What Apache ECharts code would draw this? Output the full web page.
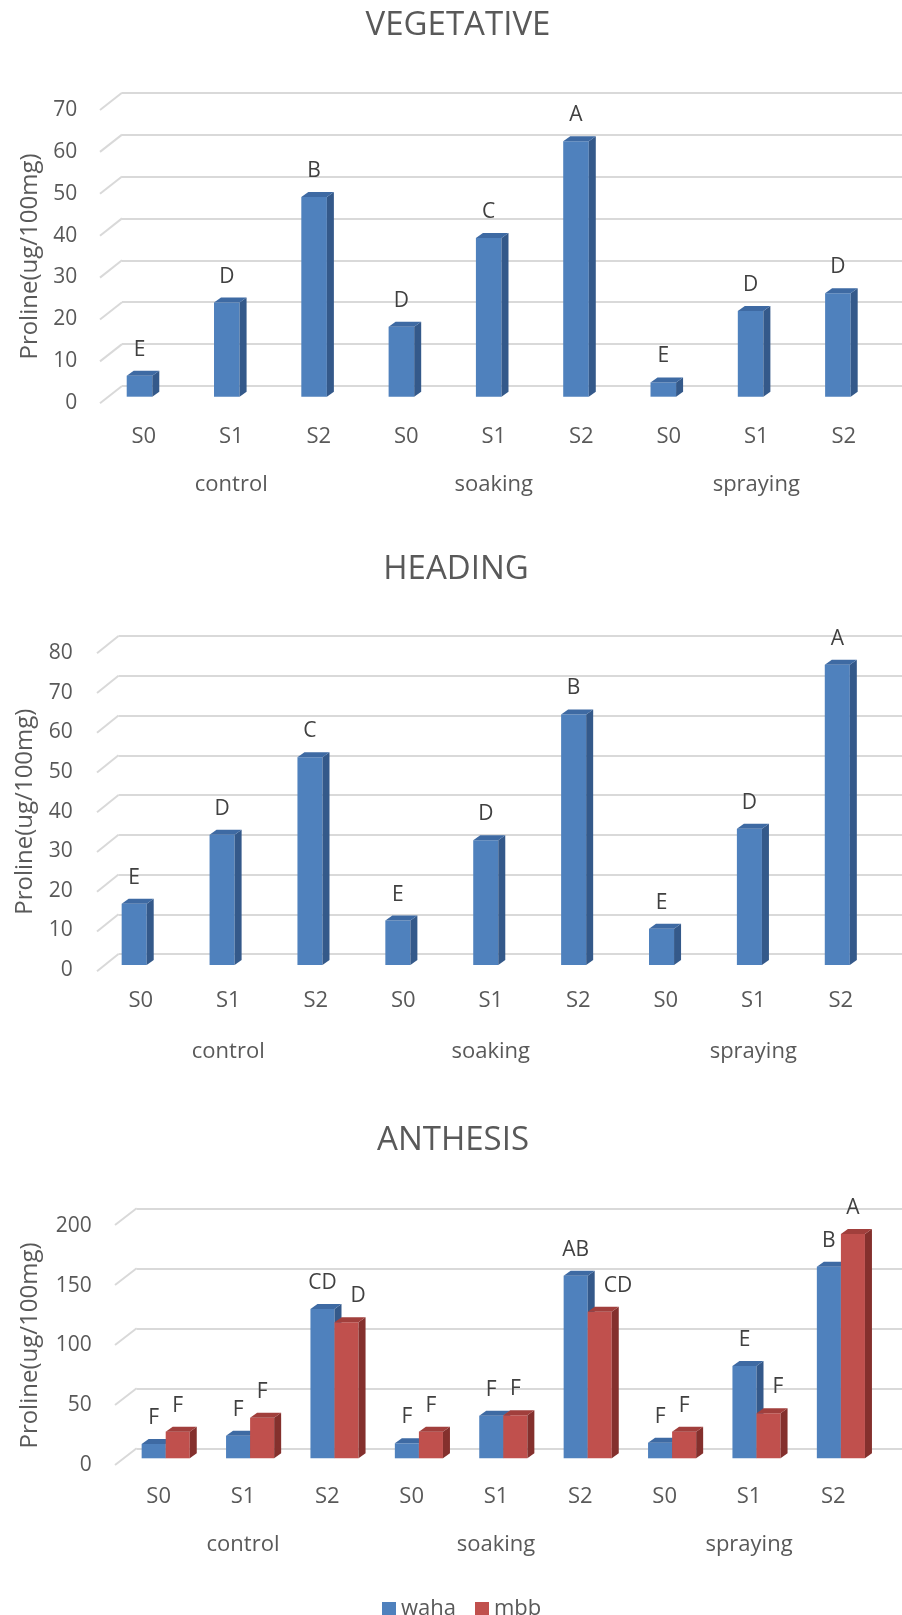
<!DOCTYPE html>
<html>
<head>
<meta charset="utf-8">
<title>Proline content</title>
<script src="https://cdn.jsdelivr.net/npm/echarts@6/dist/echarts.min.js"></script>
<style>
  html, body { margin: 0; padding: 0; background: #ffffff; }
  #chart { width: 902px; height: 1615px; }
</style>
</head>
<body>
<div id="chart"></div>
<script>
// ---- data ----
const stageCategories = ['S0', 'S1', 'S2', 'S0', 'S1', 'S2', 'S0', 'S1', 'S2'];
const groupCategories = ['control', 'soaking', 'spraying'];

const vegetativeTicks = [0, 10, 20, 30, 40, 50, 60, 70];
const vegetativeValues = [5.0, 22.5, 47.7, 16.7, 37.9, 61.0, 3.4, 20.5, 24.7];
const vegetativeLetters = ['E', 'D', 'B', 'D', 'C', 'A', 'E', 'D', 'D'];

const headingTicks = [0, 10, 20, 30, 40, 50, 60, 70, 80];
const headingValues = [15.4, 32.8, 52.3, 11.2, 31.4, 63.1, 9.1, 34.3, 75.6];
const headingLetters = ['E', 'D', 'C', 'E', 'D', 'B', 'E', 'D', 'A'];

const anthesisTicks = [0, 50, 100, 150, 200];
const anthesisWaha = [11.9, 18.8, 124.4, 12.5, 35.5, 152.2, 13.0, 76.9, 159.7];
const anthesisMbb = [22.2, 33.8, 113.3, 22.2, 35.8, 122.2, 22.2, 37.5, 186.9];
const anthesisWahaLetters = ['F', 'F', 'CD', 'F', 'F', 'AB', 'F', 'E', 'B'];
const anthesisMbbLetters = ['F', 'F', 'D', 'F', 'F', 'CD', 'F', 'F', 'A'];

const yAxisName = 'Proline(ug/100mg)';

// ---- styling ----
const FONT = '"Open Sans", "Noto Sans", sans-serif';
const TEXT_GREY = '#595959';
const LABEL_DARK = '#404040';
const GRID_GREY = '#d9d9d9';
const palette = {
  waha: { front: '#4f81bd', top: '#3e6aa3', side: '#34598a' },
  mbb:  { front: '#c0504d', top: '#a13f3c', side: '#84302d' }
};

// ---- layout of the three panels (front plane, back wall, bar plane) ----
const layout = [
  {
    title: { x: 458, y: 26 },
    front: { left: 100, top: 110, width: 787.5, height: 293 },
    back: { left: 122, top: 92.7, right: 0, height: 293.3 },
    bars: { left: 95.85, top: 103.7, width: 785.7, height: 293 },
    depth: { dx: 22, dy: 17.3 },
    tickMargin: 22.7, stageMargin: 22.7, groupMargin: 71, nameGap: 58
  },
  {
    title: { x: 456, y: 569.5 },
    front: { left: 97, top: 653.3, width: 787.5, height: 316.7 },
    back: { left: 118.5, top: 636, right: 0, height: 318 },
    bars: { left: 90.25, top: 647.4, width: 791, height: 317.6 },
    depth: { dx: 21.5, dy: 17.3 },
    tickMargin: 24.3, stageMargin: 19.8, groupMargin: 70.3, nameGap: 60
  },
  {
    title: { x: 453, y: 1141 },
    front: { left: 116.5, top: 1226, width: 759, height: 239 },
    back: { left: 136.7, top: 1208.3, right: 0, height: 240 },
    bars: { left: 123.5, top: 1218.3, width: 759.6, height: 240 },
    depth: { dx: 21.7, dy: 16.7 },
    tickMargin: 24.8, stageMargin: 20.7, groupMargin: 69, nameGap: 74
  }
];

const panels = [
  {
    title: 'VEGETATIVE', max: 70, interval: 10, ticks: vegetativeTicks, widthRatio: 0.293,
    series: [{ name: 'vegetative', values: vegetativeValues, letters: vegetativeLetters, colors: palette.waha, shift: 0 }]
  },
  {
    title: 'HEADING', max: 80, interval: 10, ticks: headingTicks, widthRatio: 0.285,
    series: [{ name: 'heading', values: headingValues, letters: headingLetters, colors: palette.waha, shift: 0 }]
  },
  {
    title: 'ANTHESIS', max: 200, interval: 50, ticks: anthesisTicks, widthRatio: 0.285,
    series: [
      { name: 'waha', values: anthesisWaha, letters: anthesisWahaLetters, colors: palette.waha, shift: -0.5 },
      { name: 'mbb', values: anthesisMbb, letters: anthesisMbbLetters, colors: palette.mbb, shift: 0.5,
        neighbour: anthesisWaha }
    ]
  }
];

// Column with a right side face and a top face to give the 3-D look.
const BAR_DX = 7, BAR_DY = 5, LABEL_LIFT = 26, LABEL_CLEAR = 9;
function columnRenderer(spec, widthRatio) {
  return function (params, api) {
    const idx = api.value(0);
    const val = api.value(1);
    const base = api.coord([idx, 0]);
    const top = api.coord([idx, val]);
    const band = api.size([1, 0])[0];
    const w = band * widthRatio;
    const cx = base[0] + spec.shift * w;
    const x0 = cx - w / 2, x1 = cx + w / 2;
    const yt = top[1], yb = base[1];

    // when the left-hand neighbour column is taller, move the letter clear of it
    let labelX = cx, labelAlign = 'center';
    if (spec.neighbour && spec.neighbour[params.dataIndex] > val) {
      labelX = x0 + BAR_DX + LABEL_CLEAR;
      labelAlign = 'left';
    }
    return {
      type: 'group',
      children: [
        { type: 'rect', shape: { x: x0, y: yt, width: w, height: yb - yt }, style: { fill: spec.colors.front } },
        { type: 'polygon', shape: { points: [[x1, yt], [x1 + BAR_DX, yt - BAR_DY], [x1 + BAR_DX, yb - BAR_DY], [x1, yb]] },
          style: { fill: spec.colors.side } },
        { type: 'polygon', shape: { points: [[x0, yt], [x0 + BAR_DX, yt - BAR_DY], [x1 + BAR_DX, yt - BAR_DY], [x1, yt]] },
          style: { fill: spec.colors.top } },
        { type: 'text', x: labelX, y: yt - LABEL_LIFT,
          style: { text: spec.letters[params.dataIndex], fill: LABEL_DARK, fontSize: 21, fontFamily: FONT,
                   align: labelAlign, verticalAlign: 'middle' } }
      ]
    };
  };
}

// Slanted lines joining the value labels to the back wall.
function slantRenderer(depth) {
  return function (params, api) {
    const p = api.coord([0, api.value(1)]);
    return {
      type: 'line',
      shape: { x1: p[0], y1: p[1], x2: p[0] - depth.dx, y2: p[1] + depth.dy },
      style: { stroke: GRID_GREY, lineWidth: 2 }
    };
  };
}

const grids = [], xAxes = [], yAxes = [], series = [], graphics = [];

panels.forEach(function (panel, p) {
  const g = layout[p];
  const gFront = grids.length;
  grids.push({ left: g.front.left, top: g.front.top, width: g.front.width, height: g.front.height });
  const gBack = grids.length;
  grids.push({ left: g.back.left, top: g.back.top, right: g.back.right, height: g.back.height });
  const gBars = grids.length;
  grids.push({ left: g.bars.left, top: g.bars.top, width: g.bars.width, height: g.bars.height });

  // front plane: stage labels, treatment labels, value labels, axis name
  xAxes.push({
    type: 'category', gridIndex: gFront, data: stageCategories, position: 'bottom',
    axisLine: { show: false }, axisTick: { show: false }, splitLine: { show: false },
    axisLabel: { margin: g.stageMargin, fontSize: 22, lineHeight: 22, color: TEXT_GREY, fontFamily: FONT }
  });
  xAxes.push({
    type: 'category', gridIndex: gFront, data: groupCategories, position: 'bottom',
    axisLine: { show: false }, axisTick: { show: false }, splitLine: { show: false },
    axisLabel: { margin: g.groupMargin, fontSize: 22, lineHeight: 22, color: TEXT_GREY, fontFamily: FONT }
  });
  yAxes.push({
    type: 'value', gridIndex: gFront, min: 0, max: panel.max, interval: panel.interval,
    axisLine: { show: false }, axisTick: { show: false }, splitLine: { show: false },
    axisLabel: { margin: g.tickMargin, fontSize: 21, color: TEXT_GREY, fontFamily: FONT },
    name: yAxisName, nameLocation: 'middle', nameGap: g.nameGap, nameRotate: 90,
    nameTextStyle: { fontSize: 24, color: TEXT_GREY, fontFamily: FONT }
  });

  // back wall: horizontal gridlines
  const xBack = xAxes.length;
  xAxes.push({ type: 'value', gridIndex: gBack, min: 0, max: 1, show: false });
  const yBack = yAxes.length;
  yAxes.push({
    type: 'value', gridIndex: gBack, min: 0, max: panel.max, interval: panel.interval,
    axisLine: { show: false }, axisTick: { show: false }, axisLabel: { show: false },
    splitLine: { show: true, lineStyle: { color: GRID_GREY, width: 2 } }
  });

  // bar plane
  const xBars = xAxes.length;
  xAxes.push({ type: 'category', gridIndex: gBars, data: stageCategories, show: false });
  const yBars = yAxes.length;
  yAxes.push({ type: 'value', gridIndex: gBars, min: 0, max: panel.max, interval: panel.interval, show: false });

  series.push({
    type: 'custom', name: panel.title + '-floor', xAxisIndex: xBack, yAxisIndex: yBack,
    silent: true, renderItem: slantRenderer(g.depth),
    data: panel.ticks.map(function (t) { return [0, t]; })
  });

  panel.series.forEach(function (spec) {
    series.push({
      type: 'custom', name: spec.name, xAxisIndex: xBars, yAxisIndex: yBars,
      itemStyle: { color: spec.colors.front },
      renderItem: columnRenderer(spec, panel.widthRatio),
      data: spec.values.map(function (v, i) { return [i, v]; })
    });
  });

  graphics.push({
    type: 'text', x: g.title.x, y: g.title.y,
    style: { text: panel.title, fill: TEXT_GREY, fontSize: 33, fontFamily: FONT, align: 'center', verticalAlign: 'middle' }
  });
});

const chart = echarts.init(document.getElementById('chart'), null, { renderer: 'canvas' });
chart.setOption({
  animation: false,
  backgroundColor: '#ffffff',
  grid: grids,
  xAxis: xAxes,
  yAxis: yAxes,
  series: series,
  graphic: graphics,
  legend: {
    data: ['waha', 'mbb'],
    left: 377, top: 1593,
    icon: 'rect', itemWidth: 14, itemHeight: 14, itemGap: 19,
    textStyle: { fontSize: 22, color: TEXT_GREY, fontFamily: FONT }
  }
});
</script>
</body>
</html>
